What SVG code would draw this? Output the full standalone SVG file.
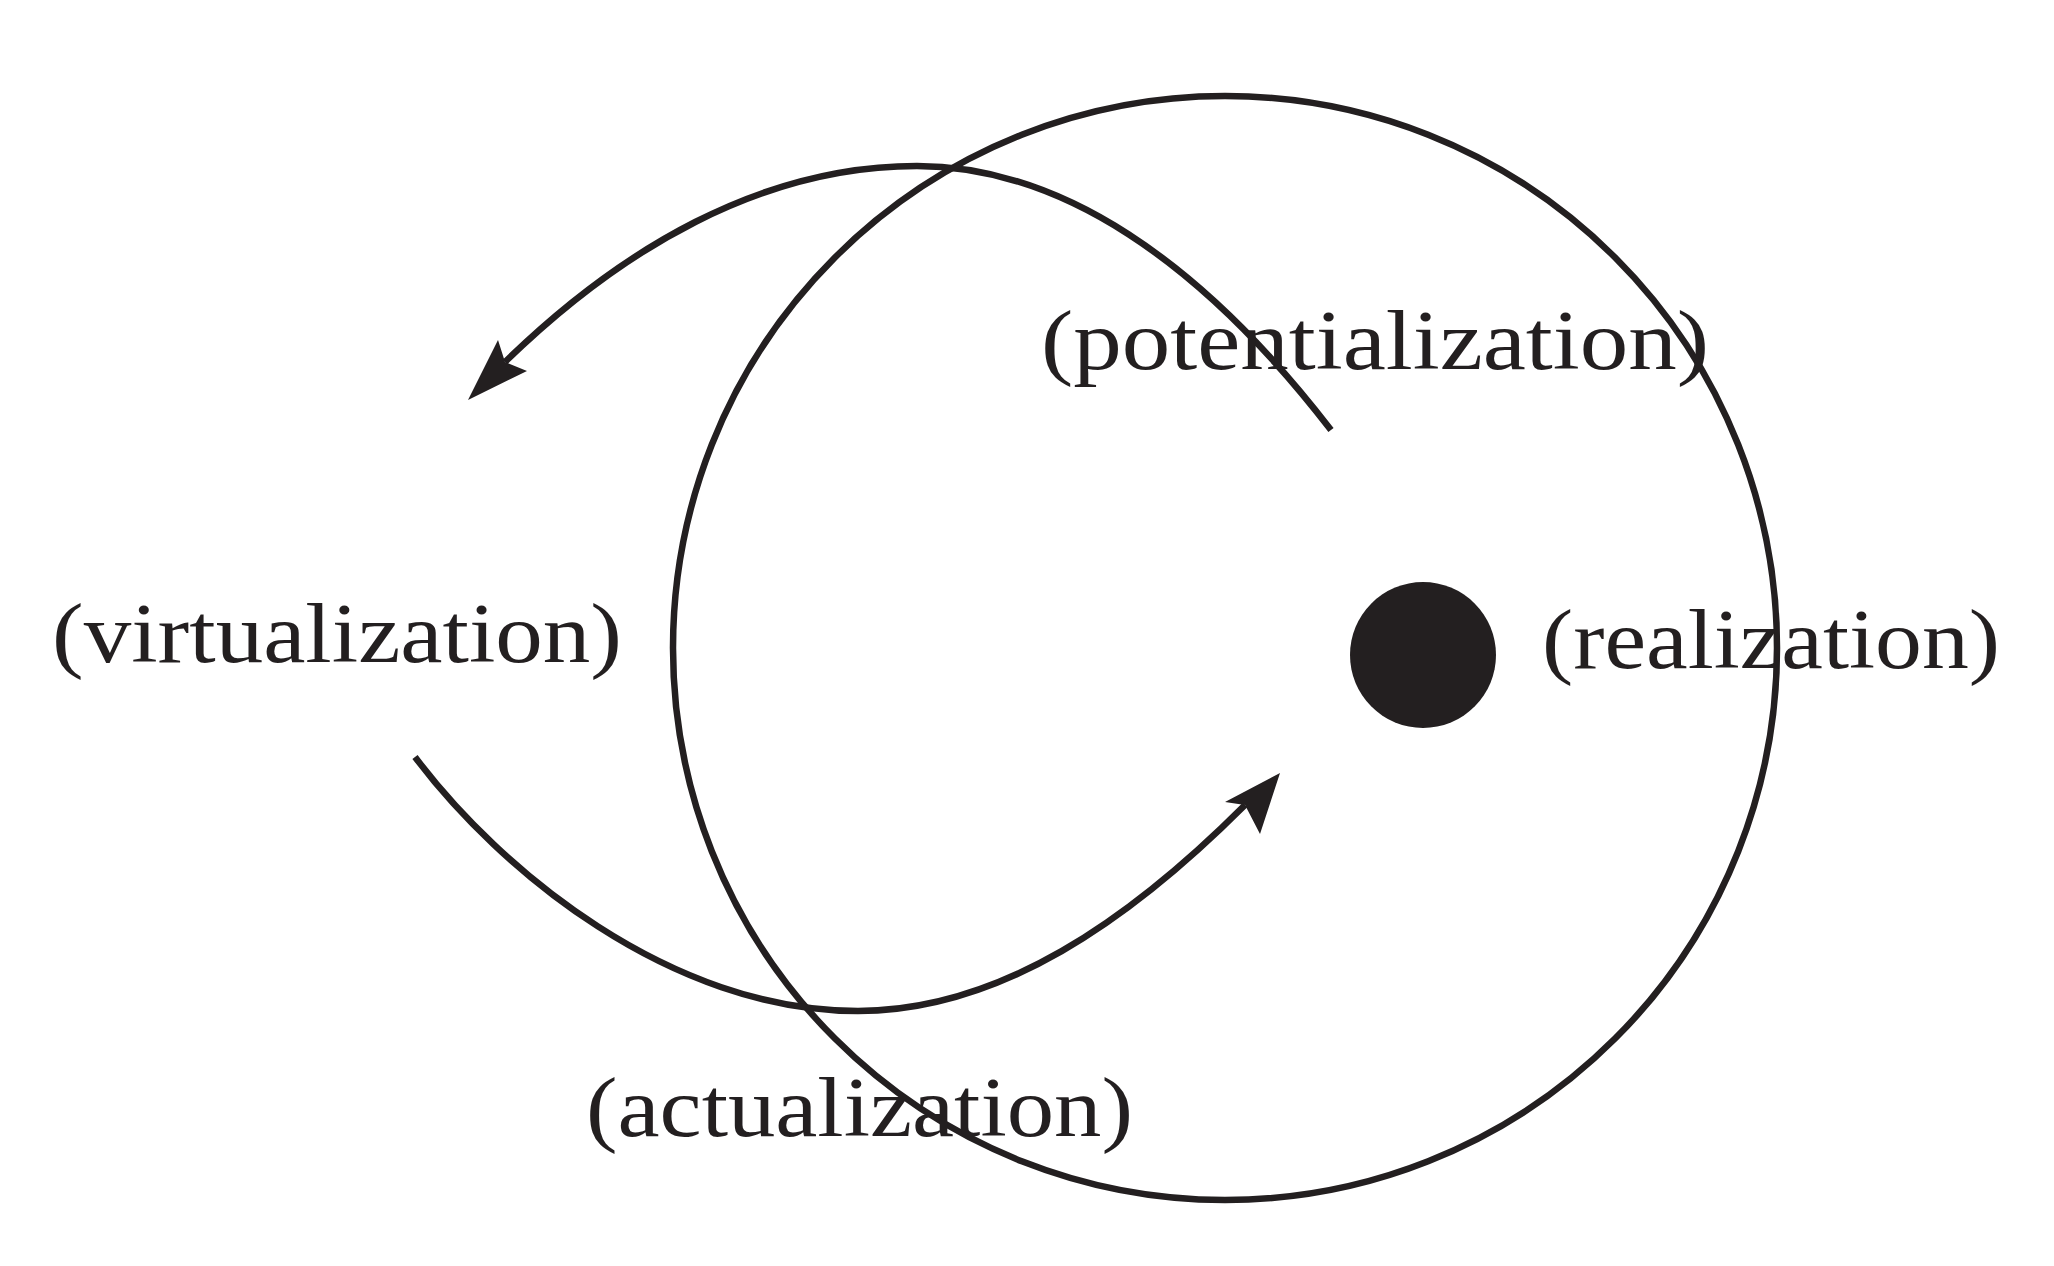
<svg xmlns="http://www.w3.org/2000/svg" width="2054" height="1266" viewBox="0 0 2054 1266">
<style>
.l{fill:none;stroke:#231f20;stroke-width:6.5}
.h{fill:#231f20}
text{font-family:"Liberation Serif",serif;font-size:84px;fill:#231f20}
</style>
<rect width="2054" height="1266" fill="#fff"/>
<g id="circle"><circle class="l" cx="1225" cy="648" r="552"/></g>
<g id="dot"><circle class="h" cx="1423" cy="655" r="73"/></g>
<g id="connectors">
<path class="l" d="M1331 430 C1200 260 1060 166 917 166 C760 166 620 250 505 362"/>
<polygon class="h" points="468,400 498,340 505,362 527,371"/>
<path class="l" d="M415 757 C500 870 670 1011 858 1011 C1000 1011 1130 920 1245 805"/>
<polygon class="h" points="1280,773 1260,834 1245,805 1225,802"/>
</g>
<g id="potentialization"><text x="1041" y="369" textLength="668" lengthAdjust="spacingAndGlyphs">(potentialization)</text></g>
<g id="virtualization"><text x="52" y="662" textLength="570" lengthAdjust="spacingAndGlyphs">(virtualization)</text></g>
<g id="realization"><text x="1542" y="668" textLength="458" lengthAdjust="spacingAndGlyphs">(realization)</text></g>
<g id="actualization"><text x="586" y="1136" textLength="547" lengthAdjust="spacingAndGlyphs">(actualization)</text></g>
</svg>
